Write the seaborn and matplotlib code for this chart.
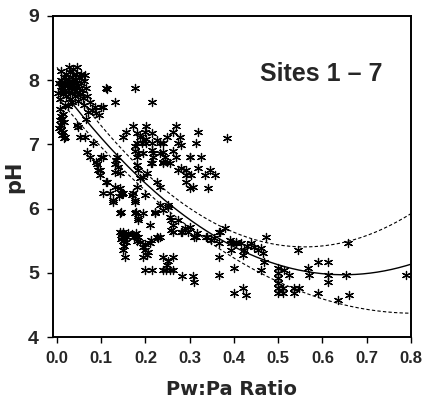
import numpy as np
import pandas as pd
import matplotlib
matplotlib.use("Agg")
import matplotlib.pyplot as plt
import seaborn as sns

# Scatter data: (Pw:Pa ratio, pH)
blob = [(0.005, 7.95), (0.008, 7.85), (0.010, 8.00), (0.012, 7.90), (0.013, 7.78), (0.015, 8.05),
        (0.016, 7.95), (0.018, 7.85), (0.020, 7.75), (0.020, 8.10), (0.022, 7.92), (0.024, 8.02),
        (0.025, 7.82), (0.027, 7.88), (0.028, 7.98), (0.030, 8.12), (0.030, 7.70), (0.032, 7.92),
        (0.033, 7.80), (0.035, 8.05), (0.036, 8.18), (0.037, 7.95), (0.038, 7.86), (0.040, 7.75),
        (0.040, 8.00), (0.042, 7.90), (0.044, 8.10), (0.045, 7.82), (0.046, 7.96), (0.048, 7.68),
        (0.050, 7.88), (0.050, 8.05), (0.052, 7.78), (0.054, 7.95), (0.055, 8.10), (0.057, 7.85),
        (0.058, 7.72), (0.060, 7.98), (0.062, 7.62), (0.063, 8.08), (0.066, 7.88), (0.068, 7.75),
        (0.003, 7.80), (0.006, 7.70), (0.018, 7.62), (0.026, 7.60), (0.034, 7.66), (0.010, 8.15),
        (0.028, 8.20), (0.045, 8.20)]
strand = [(0.007, 7.55), (0.008, 7.45), (0.006, 7.38), (0.009, 7.30), (0.010, 7.22), (0.012, 7.15),
          (0.015, 7.10), (0.018, 7.12), (0.005, 7.25), (0.011, 7.40), (0.014, 7.48), (0.013, 7.20),
          (0.016, 7.35)]
near_blob = [(0.074, 7.66), (0.086, 7.58), (0.104, 7.58), (0.088, 7.49), (0.111, 7.88), (0.131, 7.66),
             (0.176, 7.88), (0.113, 7.86), (0.214, 7.66), (0.080, 7.54), (0.095, 7.46), (0.100, 7.58),
             (0.047, 7.27), (0.052, 7.12), (0.063, 7.12), (0.045, 7.30), (0.065, 7.40), (0.070, 7.50)]
diagonal = [(0.082, 7.02), (0.067, 6.88), (0.074, 6.80), (0.088, 6.73), (0.090, 6.70), (0.097, 6.60),
            (0.100, 6.80), (0.104, 6.80), (0.093, 6.60), (0.097, 6.52), (0.111, 6.41), (0.113, 6.41),
            (0.131, 6.57), (0.131, 6.70), (0.135, 6.80), (0.133, 6.76), (0.138, 6.65), (0.142, 6.55),
            (0.131, 6.34), (0.142, 6.32), (0.104, 6.24), (0.120, 6.24), (0.149, 6.24), (0.126, 6.13),
            (0.172, 6.24), (0.176, 6.13), (0.169, 6.21), (0.180, 6.34), (0.187, 6.48), (0.203, 6.55),
            (0.199, 6.21), (0.226, 6.41), (0.232, 6.34), (0.183, 6.87), (0.183, 6.60), (0.194, 6.49),
            (0.145, 6.25), (0.148, 6.22), (0.140, 6.20)]
band7 = [(0.157, 7.20), (0.172, 7.28), (0.180, 7.17), (0.187, 7.12), (0.199, 7.20), (0.202, 7.28),
         (0.214, 7.17), (0.225, 7.07), (0.233, 7.02), (0.240, 7.02), (0.248, 7.12), (0.180, 7.02),
         (0.191, 7.02), (0.202, 7.02), (0.214, 7.02), (0.176, 6.89), (0.195, 6.86), (0.214, 6.91),
         (0.217, 6.81), (0.180, 6.81), (0.233, 6.86), (0.244, 6.81), (0.263, 7.20), (0.270, 7.28),
         (0.278, 7.12), (0.274, 7.02), (0.281, 6.99), (0.319, 7.20), (0.176, 6.97), (0.202, 7.09),
         (0.150, 7.12), (0.214, 6.71), (0.240, 6.73), (0.248, 6.73), (0.180, 6.68), (0.263, 6.89),
         (0.300, 6.81)]
mid = [(0.217, 6.87), (0.239, 6.88), (0.269, 6.80), (0.300, 6.80), (0.212, 6.71), (0.239, 6.71),
       (0.255, 6.71), (0.273, 6.60), (0.291, 6.60), (0.318, 6.63), (0.291, 6.52), (0.302, 6.52),
       (0.334, 6.52), (0.357, 6.52), (0.291, 6.41), (0.300, 6.32), (0.341, 6.32), (0.315, 7.02),
       (0.326, 6.81), (0.308, 6.34), (0.281, 6.63), (0.385, 7.10), (0.345, 6.60)]
low = [(0.127, 6.10), (0.142, 5.93), (0.176, 6.10), (0.176, 5.93), (0.194, 5.93), (0.183, 5.85),
       (0.221, 5.93), (0.239, 5.98), (0.232, 6.06), (0.250, 6.03), (0.210, 5.74), (0.255, 5.87),
       (0.262, 5.74), (0.262, 5.64), (0.282, 5.64), (0.296, 5.64), (0.300, 5.71), (0.316, 5.62),
       (0.310, 5.56), (0.339, 5.56), (0.144, 5.95), (0.178, 5.95), (0.183, 5.82),
       (0.142, 5.64), (0.146, 5.60), (0.150, 5.64), (0.154, 5.58), (0.158, 5.55), (0.144, 5.52),
       (0.150, 5.50), (0.156, 5.48), (0.160, 5.62), (0.148, 5.56), (0.149, 5.36), (0.153, 5.25),
       (0.152, 5.42), (0.170, 5.60), (0.175, 5.56), (0.180, 5.50), (0.187, 5.48), (0.178, 5.62),
       (0.184, 5.55), (0.194, 5.40), (0.200, 5.36), (0.194, 5.25), (0.203, 5.28), (0.206, 5.32),
       (0.210, 5.46), (0.226, 5.56), (0.232, 5.56), (0.198, 5.45), (0.199, 5.04), (0.214, 5.04),
       (0.239, 5.25), (0.262, 5.25), (0.239, 5.04), (0.247, 5.04), (0.255, 5.04), (0.262, 5.04),
       (0.248, 5.12), (0.252, 5.18), (0.282, 4.95), (0.307, 4.95), (0.310, 4.86), (0.221, 5.95),
       (0.257, 5.82), (0.273, 5.82), (0.257, 5.67), (0.280, 5.64), (0.290, 5.70), (0.314, 5.56),
       (0.336, 5.56), (0.348, 5.51), (0.368, 5.64), (0.390, 5.51), (0.404, 5.48), (0.212, 5.51),
       (0.228, 5.54), (0.250, 6.06)]
right = [(0.366, 5.64), (0.366, 5.46), (0.366, 5.25), (0.366, 4.97), (0.354, 5.54), (0.393, 5.46),
         (0.393, 5.36), (0.404, 5.46), (0.415, 5.46), (0.400, 5.07), (0.400, 4.69), (0.420, 4.76),
         (0.427, 4.65), (0.422, 5.36), (0.420, 5.28), (0.438, 5.46), (0.454, 5.36), (0.460, 5.39),
         (0.465, 5.31), (0.472, 5.56), (0.467, 5.17), (0.460, 5.04), (0.500, 5.07), (0.500, 5.00),
         (0.500, 4.92), (0.500, 4.84), (0.500, 4.76), (0.500, 4.69), (0.510, 4.76), (0.510, 4.69),
         (0.512, 5.04), (0.524, 4.97), (0.535, 4.76), (0.535, 4.69), (0.546, 4.76), (0.544, 5.36),
         (0.567, 5.07), (0.569, 4.97), (0.589, 5.17), (0.589, 4.69), (0.612, 5.17), (0.612, 4.97),
         (0.612, 4.86), (0.634, 4.58), (0.657, 5.46), (0.652, 4.97), (0.659, 4.65), (0.788, 4.97),
         (0.380, 5.70), (0.430, 5.42), (0.445, 5.40)]

# Quadratic fit and confidence band coefficients (a + b*x + c*x^2)
fit_coef = [7.95, -9.2, 7.1]
upper_coef = [8.2, -10.0, 8.94]
lower_coef = [7.74, -8.34, 5.16]
curve_range = [0.0, 0.8]

x_ticks = [0.0, 0.1, 0.2, 0.3, 0.4, 0.5, 0.6, 0.7, 0.8]
y_ticks = [4, 5, 6, 7, 8, 9]

points = pd.DataFrame(blob + strand + near_blob + diagonal + band7 + mid + low + right,
                      columns=["ratio", "ph"])

xs = np.linspace(curve_range[0], curve_range[1], 200)
def poly(coef, x):
    return coef[0] + coef[1] * x + coef[2] * x ** 2
curves = pd.DataFrame({"ratio": xs, "fit": poly(fit_coef, xs),
                       "upper": poly(upper_coef, xs), "lower": poly(lower_coef, xs)})

sns.set_style("ticks")
plt.rcParams['font.family'] = ['Liberation Sans Narrow', 'Liberation Sans', 'DejaVu Sans']

fig = plt.figure(figsize=(4.22, 4.07), dpi=100)
ax = fig.add_axes([53 / 422, 1 - 337 / 407, 358 / 422, 321 / 407])

sns.scatterplot(data=points, x="ratio", y="ph", marker=(6, 2, 0), s=34,
                color="black", linewidth=0.9, ax=ax, zorder=3)
sns.lineplot(data=curves, x="ratio", y="fit", color="black", linewidth=1.0, ax=ax)
sns.lineplot(data=curves, x="ratio", y="upper", color="black", linewidth=0.8, ax=ax)
ax.lines[-1].set_dashes([3, 2])
sns.lineplot(data=curves, x="ratio", y="lower", color="black", linewidth=0.8, ax=ax)
ax.lines[-1].set_dashes([3, 2])

ax.set_xlim(-0.009, 0.8)
ax.set_ylim(4, 9)
ax.set_xticks(x_ticks)
ax.set_xticklabels([f"{t:.1f}" for t in x_ticks], fontsize=12, fontweight="bold")
ax.set_yticks(y_ticks)
ax.set_yticklabels([str(t) for t in y_ticks], fontsize=14, fontweight="bold")
ax.tick_params(axis="both", length=4, width=1, color="black", pad=6)

for side in ["top", "right", "left", "bottom"]:
    ax.spines[side].set_visible(True)
    ax.spines[side].set_linewidth(1.4)
    ax.spines[side].set_color("black")

ax.set_xlabel("Pw:Pa Ratio", fontsize=14, fontweight="bold", family="DejaVu Sans", labelpad=10)
ax.set_ylabel("pH", fontsize=15, fontweight="bold", family="DejaVu Sans", labelpad=3)
ax.text(0.75, 0.82, "Sites 1 – 7", transform=ax.transAxes, fontsize=18,
        fontweight="bold", ha="center", va="center")

fig.savefig("out.png", dpi=100)
